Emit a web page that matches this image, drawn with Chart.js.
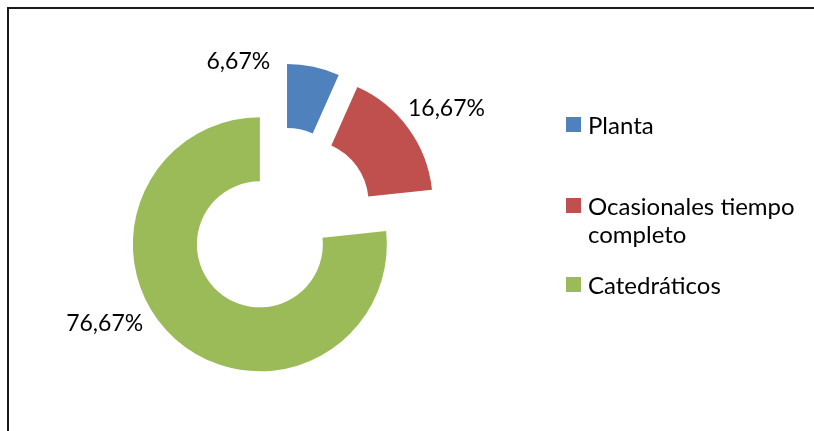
<!DOCTYPE html>
<html>
<head>
<meta charset="utf-8">
<script src="https://cdn.jsdelivr.net/npm/chart.js@4"></script>
<style>
  html, body { margin: 0; padding: 0; background: #fff; overflow: hidden; }
  body { width: 814px; height: 431px; position: relative; font-family: Lato, sans-serif; }
  .frame { position: absolute; left: 7px; top: 7px; width: 830px; height: 450px; border-left: 2px solid #1a1a1a; border-top: 2px solid #1a1a1a; }
  #chart { position: absolute; left: 0; top: 0; }
  .legend { position: absolute; left: 566px; top: 0; width: 246px; }
  .item { position: absolute; left: 0; display: flex; align-items: flex-start; font-size: 24px; line-height: 28px; color: #000; }
  .item .box { width: 15px; height: 15px; margin-top: 6px; margin-right: 7px; flex: none; }
  .item .txt { width: 224px; }
</style>
</head>
<body>
<div class="frame"></div>
<canvas id="chart" width="814" height="431"></canvas>
<div class="legend"></div>
<script>
const labels = ["Planta", "Ocasionales tiempo completo", "Catedráticos"];
const values = [6.67, 16.67, 76.67];
const colors = ["#4F81BD", "#C0504D", "#9BBB59"];

// label placement around each exploded slice (degrees from 12 o'clock, px from slice centre)
const labelAngle = [-20.5, 55.9, 243.1];
const labelDist = [139, 170, 174];
const legendTop = [111, 192, 271];

const EXPLODE = 124; // chart.js moves an arc by offset / 4

const fmt = (v) => v.toFixed(2).replace(".", ",") + "%";

// chart.js also grows the radius of an offset arc, undo that so all slices keep the same ring
const explodeFix = {
  id: "explodeFix",
  afterDatasetUpdate(chart, args) {
    args.meta.data.forEach((arc) => {
      const ro = (EXPLODE / 4) * (1 - Math.sin(Math.min(Math.PI, arc.circumference)));
      const R = arc.outerRadius;
      const widen = ro / (2 * Math.PI * R);
      arc.outerRadius = R - ro;
      arc.innerRadius = arc.innerRadius - ro;
      arc.startAngle -= widen;
      arc.endAngle += widen;
    });
  },
};

const pctLabels = {
  id: "pctLabels",
  afterDatasetsDraw(chart) {
    const ctx = chart.ctx;
    const arcs = chart.getDatasetMeta(0).data;
    ctx.save();
    ctx.font = "23px Lato";
    ctx.fillStyle = "#000";
    ctx.textAlign = "center";
    ctx.textBaseline = "alphabetic";
    arcs.forEach((arc, i) => {
      const mid = (arc.startAngle + arc.endAngle) / 2;
      const cx = arc.x + (Math.cos(mid) * EXPLODE) / 4;
      const cy = arc.y + (Math.sin(mid) * EXPLODE) / 4;
      const a = ((labelAngle[i] - 90) * Math.PI) / 180;
      ctx.fillText(fmt(values[i]), cx + Math.cos(a) * labelDist[i], cy + Math.sin(a) * labelDist[i] + 8);
    });
    ctx.restore();
  },
};

new Chart(document.querySelector("#chart").getContext("2d"), {
  type: "doughnut",
  data: {
    labels: labels,
    datasets: [
      {
        data: values,
        backgroundColor: colors,
        borderWidth: 0,
        offset: EXPLODE,
        hoverOffset: 0,
      },
    ],
  },
  options: {
    responsive: false,
    animation: false,
    events: [],
    radius: 127,
    cutout: "49.6%",
    layout: { padding: { left: 0, right: 252.8, top: 11.6, bottom: 0 } },
    plugins: {
      legend: { display: false },
      tooltip: { enabled: false },
    },
  },
  plugins: [explodeFix, pctLabels],
});

// legend on the right, Excel style
const legend = document.querySelector(".legend");
labels.forEach((name, i) => {
  const item = document.createElement("div");
  item.className = "item";
  item.style.top = legendTop[i] + "px";
  item.innerHTML = '<span class="box" style="background:' + colors[i] + '"></span><span class="txt">' + name + "</span>";
  legend.appendChild(item);
});
</script>
</body>
</html>
